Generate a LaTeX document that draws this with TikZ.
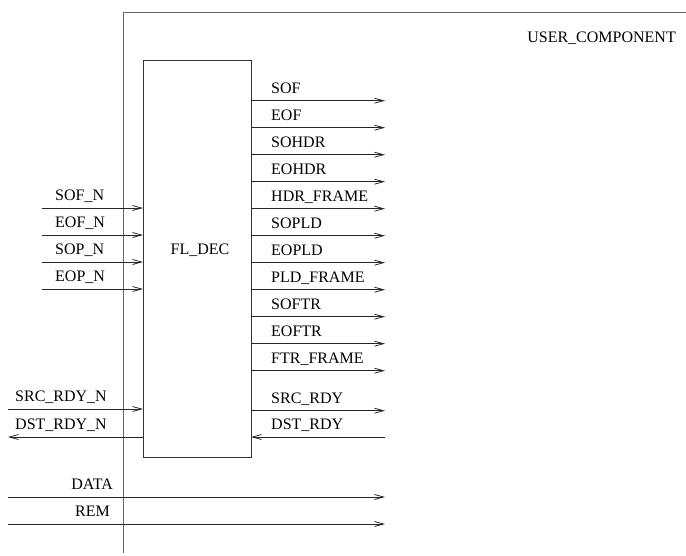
\documentclass[tikz,border=0pt]{standalone}
\usepackage{fontspec}
\setmainfont{Liberation Serif}
\usetikzlibrary{arrows.meta}
\begin{document}
\begin{tikzpicture}[x=1pt,y=-1pt,
  sig/.style={draw=black!85, line width=0.8pt, -{Straight Barb[length=9pt,width=5pt]}},
  lbl/.style={font=\fontsize{16}{18}\selectfont, inner sep=0pt},
  frame/.style={draw=black!60, line width=0.9pt},
  box/.style={draw=black!80, line width=0.9pt, minimum width=108pt, minimum height=397pt, inner sep=0pt, anchor=north west}]
\useasboundingbox (0,0) rectangle (686,555);
% outer component frame
\coordinate (ftop) at (123,12);
\coordinate (fbot) at (123,553);
\coordinate (fright) at (686,12);
\draw[frame] (fbot) -- (ftop) -- (fright);
\node[lbl, anchor=base east] (uc) at (676,42) {USER\_COMPONENT};
% decoder box
\node[box] (dec) at (143,60) {};
\node[lbl] (decl) at (200,250) {FL\_DEC};
% left inputs
\foreach \n/\t/\y in {a/SOF\_N/208, b/EOF\_N/235, c/SOP\_N/262, d/EOP\_N/289}{
  \coordinate (in\n) at (42,\y);
  \coordinate (ie\n) at (143,\y);
  \draw[sig] (in\n) -- (ie\n);
  \node[lbl, anchor=base west] (l\n) at (55,\y-7.5) {\t};
}
\coordinate (srcn) at (8,409);
\coordinate (srcne) at (143,409);
\draw[sig] (srcn) -- (srcne);
\node[lbl, anchor=base west] (lsrcn) at (15,401.5) {SRC\_RDY\_N};
\coordinate (dstn) at (8,437);
\coordinate (dstne) at (143,437);
\draw[sig] (dstne) -- (dstn);
\node[lbl, anchor=base west] (ldstn) at (15,429.5) {DST\_RDY\_N};
% right outputs
\foreach \n/\t/\y in {a/SOF/100.7, b/EOF/127.7, c/SOHDR/154.7, d/EOHDR/181.7, e/HDR\_FRAME/208.7, f/SOPLD/235.7, g/EOPLD/262.7, h/PLD\_FRAME/289.7, i/SOFTR/316.7, j/EOFTR/343.7, k/FTR\_FRAME/370.7, l/SRC\_RDY/410.7}{
  \coordinate (os\n) at (251,\y);
  \coordinate (oe\n) at (385,\y);
  \draw[sig] (os\n) -- (oe\n);
  \node[lbl, anchor=base west] (r\n) at (271,\y-7.5) {\t};
}
\coordinate (dsts) at (385,437);
\coordinate (dste) at (251,437);
\draw[sig] (dsts) -- (dste);
\node[lbl, anchor=base west] (rdst) at (271,429.5) {DST\_RDY};
% data and rem
\coordinate (da) at (8,497);
\coordinate (dae) at (385,497);
\draw[sig] (da) -- (dae);
\node[lbl, anchor=base east] (ldata) at (113,489.5) {DATA};
\coordinate (re) at (8,524);
\coordinate (ree) at (385,524);
\draw[sig] (re) -- (ree);
\node[lbl, anchor=base east] (lrem) at (110,516.5) {REM};
\end{tikzpicture}
\end{document}
